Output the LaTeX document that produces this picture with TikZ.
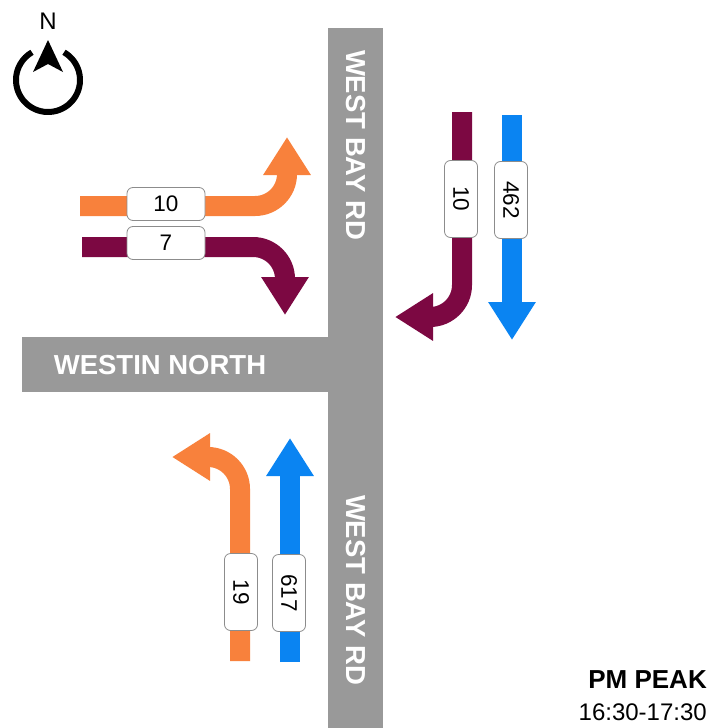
\documentclass[tikz,border=0pt]{standalone}
\usepackage{fontspec}
\setmainfont{Liberation Sans}
\usetikzlibrary{arrows.meta}
\definecolor{roadgray}{HTML}{999999}
\definecolor{orng}{HTML}{F8813C}
\definecolor{mroon}{HTML}{7C0842}
\definecolor{blu}{HTML}{0A84F2}
\tikzset{
  flow/.style={line width=20pt, -{Triangle[width=45pt,length=38pt]}, rounded corners=32pt},
  cnt/.style={draw=black!45, line width=0.8pt, fill=white, rounded corners=6pt,
              minimum width=78pt, minimum height=33pt, inner sep=0pt,
              font=\fontsize{22.5}{24}\selectfont},
  vcnt/.style={cnt, rotate=-90, minimum width=77pt, minimum height=33pt},
  roadtxt/.style={text=white, font=\fontsize{27.5}{30}\selectfont\bfseries, inner sep=0pt},
}
\begin{document}
\begin{tikzpicture}[x=1pt, y=-1pt]
\useasboundingbox[fill=white] (0,0) rectangle (713,728);
% roads
\fill[roadgray] (328,28) rectangle (383,728);
\fill[roadgray] (22,337) rectangle (383,392);
\node[roadtxt, rotate=-90] (rdN) at (355.5,145) {WEST BAY RD};
\node[roadtxt, rotate=-90] (rdS) at (355.5,590) {WEST BAY RD};
\node[roadtxt] (rdW) at (160,365) {WESTIN NORTH};
% compass
\node[font=\fontsize{24}{26}\selectfont, inner sep=0pt] (north) at (48,21) {N};
\coordinate (cc) at (48,80);
\draw[line width=6pt] (cc) ++(-60:32) arc[start angle=-60, end angle=240, radius=32];
\fill (48,40) -- (63,72) -- (48,64) -- (33,72) -- cycle;
% western approach
\coordinate (oWs) at (80,206);
\coordinate (oWc) at (287,206);
\coordinate (oWe) at (287,137);
\draw[flow, orng] (oWs) -- (oWc) -- (oWe);
\coordinate (mWs) at (82,247);
\coordinate (mWc) at (285,247);
\coordinate (mWe) at (285,315);
\draw[flow, mroon] (mWs) -- (mWc) -- (mWe);
\node[cnt] (c10w) at (166,204) {10};
\node[cnt] (c7w) at (166,243) {7};
% northern approach (east side)
\coordinate (mNs) at (462,112);
\coordinate (mNc) at (462,317);
\coordinate (mNe) at (395,317);
\draw[flow, mroon] (mNs) -- (mNc) -- (mNe);
\coordinate (bNs) at (512,115);
\coordinate (bNe) at (512,340);
\draw[flow, blu] (bNs) -- (bNe);
\node[vcnt] (c10n) at (461,199) {10};
\node[vcnt] (c462n) at (511,200) {462};
% southern approach
\coordinate (oSs) at (240,661);
\coordinate (oSc) at (240,457);
\coordinate (oSe) at (172,457);
\draw[flow, orng] (oSs) -- (oSc) -- (oSe);
\coordinate (bSs) at (290,662);
\coordinate (bSe) at (290,438);
\draw[flow, blu] (bSs) -- (bSe);
\node[vcnt] (c19s) at (241,592) {19};
\node[vcnt] (c617s) at (289,593) {617};
% caption
\node[anchor=base east, font=\fontsize{26}{28}\selectfont\bfseries, inner sep=0pt] (pk) at (707,688) {PM PEAK};
\node[anchor=base east, font=\fontsize{24}{26}\selectfont, inner sep=0pt] (tm) at (707,720) {16:30-17:30};
\end{tikzpicture}
\end{document}
